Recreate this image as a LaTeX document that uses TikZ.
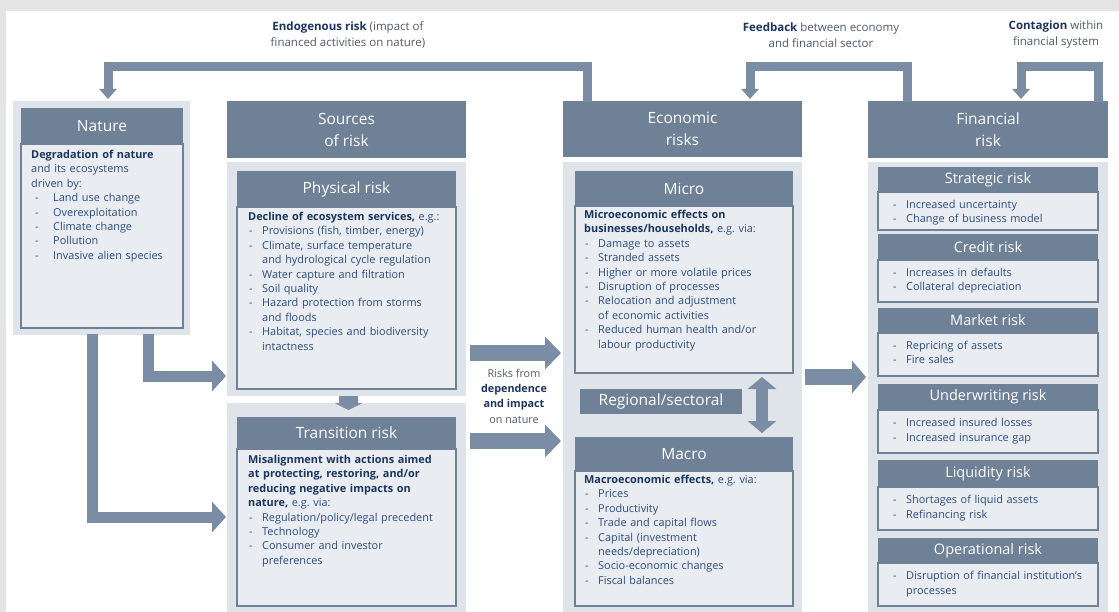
\documentclass[tikz,border=0pt]{standalone}
\usepackage{fontspec}
\setmainfont{Open Sans}
\frenchspacing
\usetikzlibrary{arrows.meta,calc}
\definecolor{hdr}{HTML}{6E8197}
\definecolor{arr}{HTML}{7A8DA5}
\definecolor{panel}{HTML}{DFE4EA}
\definecolor{bodyc}{HTML}{E9EDF2}
\definecolor{navy}{HTML}{1B355E}
\definecolor{itemc}{HTML}{2E4C7C}
\definecolor{lblc}{HTML}{4E5A6C}
\definecolor{framec}{HTML}{E4E4E4}
\newcommand\hl[1]{{\bfseries\color{navy}#1}}
\newcommand\itm[1]{\par\noindent\makebox[14pt][l]{\hspace{1pt}-}#1}
\newcommand\cnt[1]{\par\noindent\hspace*{14pt}#1}
\newcommand\itmn[1]{\par\noindent\makebox[22pt][l]{\hspace{4pt}-}#1}
\newcommand\bx[7]{\node[#2, minimum width={(#5-#3)*1pt}, minimum height={(#6-#4)*1pt}] (#1) at (#3,#4) {#7};}
\tikzset{
  boxbase/.style={anchor=north west, inner sep=0pt, outer sep=0pt},
  panelbox/.style={boxbase, fill=panel},
  hdrbox/.style={boxbase, fill=hdr, text=white, font=\fontsize{15.5}{22}\selectfont, align=center},
  subhdr/.style={hdrbox, font=\fontsize{14.5}{18}\selectfont},
  bodybox/.style={boxbase, fill=bodyc, draw=hdr, line width=1.2pt},
  txt/.style={anchor=north west, inner sep=0pt, align=left, text=itemc, font=\fontsize{10.9}{14.4}\selectfont},
  lbltxt/.style={align=center, inner sep=0pt, text=lblc, font=\fontsize{11.5}{16}\selectfont},
  fat/.style={draw=arr, line width=#1, line join=miter},
}
\begin{document}
\begin{tikzpicture}[x=1pt,y=-1pt]
\useasboundingbox (0,0) rectangle (1119,612);
\fill[framec] (0,0) rectangle (1119,612);
\fill[white] (6,11) rectangle (1119,612);

% ---------- Nature
\bx{natp}{panelbox}{13}{101}{190}{335}{}
\bx{nath}{hdrbox}{21}{108}{183}{144}{Nature}
\bx{natb}{bodybox}{21}{144}{183}{328}{}
\node[txt, text width=158pt] (natt) at ($(natb.north west)+(10,6)$) {%
\hl{Degradation of nature}\\and its ecosystems\\driven by:
\itmn{Land use change}
\itmn{Overexploitation}
\itmn{Climate change}
\itmn{Pollution}
\itmn{Invasive alien species}};

% ---------- Sources of risk
\bx{srch}{hdrbox}{227}{101}{466}{158}{Sources\\of risk}
\bx{physp}{panelbox}{227}{162}{466}{396}{}
\bx{physh}{hdrbox}{237}{171}{456}{207}{Physical risk}
\bx{physb}{bodybox}{237}{207}{456}{389}{}
\node[txt, text width=225pt] (physt) at ($(physb.north west)+(11,5)$) {%
\hl{Decline of ecosystem services,} e.g.:
\itm{Provisions (fish, timber, energy)}
\itm{Climate, surface temperature}
\cnt{and hydrological cycle regulation}
\itm{Water capture and filtration}
\itm{Soil quality}
\itm{Hazard protection from storms}
\cnt{and floods}
\itm{Habitat, species and biodiversity}
\cnt{intactness}};

\bx{transp}{panelbox}{227}{403}{466}{612}{}
\bx{transh}{hdrbox}{237}{417}{456}{449}{Transition risk}
\bx{transb}{bodybox}{237}{449}{456}{606}{}
\node[txt, text width=225pt] (transt) at ($(transb.north west)+(11,6)$) {%
\hl{Misalignment with actions aimed}\\\hl{at protecting, restoring, and/or}\\\hl{reducing negative impacts on}\\\hl{nature,} e.g. via:
\itm{Regulation/policy/legal precedent}
\itm{Technology}
\itm{Consumer and investor}
\cnt{preferences}};

% ---------- Economic risks
\bx{ecoh}{hdrbox}{563}{101}{802}{157}{Economic\\risks}
\bx{ecop}{panelbox}{563}{162}{802}{612}{}
\bx{microh}{hdrbox}{575}{171}{793}{206}{Micro}
\bx{microb}{bodybox}{575}{206}{793}{373}{}
\node[txt, text width=215pt] (microt) at ($(microb.north west)+(9,4)$) {%
\hl{Microeconomic effects on}\\\hl{businesses/households,} e.g. via:
\itm{Damage to assets}
\itm{Stranded assets}
\itm{Higher or more volatile prices}
\itm{Disruption of processes}
\itm{Relocation and adjustment}
\cnt{of economic activities}
\itm{Reduced human health and/or}
\cnt{labour productivity}};
\bx{reg}{hdrbox}{580}{389}{742}{414}{Regional/sectoral}
\bx{macroh}{hdrbox}{575}{437}{793}{471}{Macro}
\bx{macrob}{bodybox}{575}{471}{793}{606}{}
\node[txt, text width=215pt] (macrot) at ($(macrob.north west)+(9,4)$) {%
\hl{Macroeconomic effects,} e.g. via:
\itm{Prices}
\itm{Productivity}
\itm{Trade and capital flows}
\itm{Capital (investment}
\cnt{needs/depreciation)}
\itm{Socio-economic changes}
\itm{Fiscal balances}};

% ---------- Financial risk
\bx{finh}{hdrbox}{868}{101}{1108}{158}{Financial\\risk}
\bx{finp}{panelbox}{868}{162}{1108}{612}{}
\bx{strath}{subhdr}{878}{167}{1098}{192}{Strategic risk}
\bx{stratb}{bodybox}{878}{192}{1098}{230}{}
\node[txt, text width=210pt] (stratt) at ($(stratb.north west)+(14,2)$) {%
\itm{Increased uncertainty}\itm{Change of business model}};
\bx{credh}{subhdr}{878}{234}{1098}{260}{Credit risk}
\bx{credb}{bodybox}{878}{260}{1098}{302}{}
\node[txt, text width=210pt] (credt) at ($(credb.north west)+(14,2)$) {%
\itm{Increases in defaults}\itm{Collateral depreciation}};
\bx{markh}{subhdr}{878}{308}{1098}{333}{Market risk}
\bx{markb}{bodybox}{878}{333}{1098}{376}{}
\node[txt, text width=210pt] (markt) at ($(markb.north west)+(14,2)$) {%
\itm{Repricing of assets}\itm{Fire sales}};
\bx{undh}{subhdr}{878}{384}{1098}{410}{Underwriting risk}
\bx{undb}{bodybox}{878}{410}{1098}{453}{}
\node[txt, text width=210pt] (undt) at ($(undb.north west)+(14,2)$) {%
\itm{Increased insured losses}\itm{Increased insurance gap}};
\bx{liqh}{subhdr}{878}{460}{1098}{487}{Liquidity risk}
\bx{liqb}{bodybox}{878}{487}{1098}{530}{}
\node[txt, text width=210pt] (liqt) at ($(liqb.north west)+(14,2)$) {%
\itm{Shortages of liquid assets}\itm{Refinancing risk}};
\bx{oph}{subhdr}{878}{538}{1098}{563}{Operational risk}
\bx{opb}{bodybox}{878}{563}{1098}{606}{}
\node[txt, text width=210pt] (opt) at ($(opb.north west)+(14,2)$) {%
\itm{Disruption of financial institution's}\cnt{processes}};

% ---------- labels
\node[lbltxt] (endo) at (348,35) {\hl{Endogenous risk} (impact of\\financed activities on nature)};
\node[lbltxt] (feed) at (821,35) {\hl{Feedback} between economy\\and financial sector};
\node[lbltxt] (cont) at (1056,35) {\hl{Contagion} within\\financial system};
\node[lbltxt, font=\fontsize{10.8}{15.3}\selectfont] (rdep) at (514,396) {Risks from\\\hl{dependence}\\\hl{and impact}\\on nature};

% ---------- arrows
\draw[fat=9pt, -{Triangle[length=10pt,width=17pt]}]
  ($(ecoh.north west)+(24,1)$) -- ++(0,-35) -| ($(natp.north west)+(95,-2)$);
\draw[fat=9pt, -{Triangle[length=10pt,width=17pt]}]
  ($(finh.north west)+(39,1)$) -- ++(0,-35) -| ($(ecoh.north west)+(187,-2)$);
\draw[fat=9pt, -{Triangle[length=10pt,width=17pt]}]
  ($(finh.north east)+(-10,1)$) -- ++(0,-35) -| ($(finh.north west)+(153,-2)$);

\draw[fat=11pt, -{Triangle[length=14pt,width=30pt]}]
  ($(natp.south west)+(135,-1)$) |- ($(physp.north west)+(-1,214)$);
\draw[fat=11pt, -{Triangle[length=14pt,width=30pt]}]
  ($(natp.south west)+(79,-1)$) |- ($(transp.north west)+(-1,114)$);

\draw[fat=19pt, -{Triangle[length=7pt,width=28pt]}]
  ($(physp.south)+(2,0)$) -- ($(transp.north)+(2,7)$);

\draw[fat=16pt, -{Triangle[length=16pt,width=32pt]}]
  ($(physp.north east)+(4,191)$) -- ($(ecop.north west)+(-2,191)$);
\draw[fat=16pt, -{Triangle[length=16pt,width=32pt]}]
  ($(transp.north east)+(4,38)$) -- ($(ecop.north west)+(-2,279)$);

\draw[fat=12pt, {Triangle[length=12pt,width=28pt]}-{Triangle[length=12pt,width=28pt]}]
  ($(microb.south west)+(187,4)$) -- ($(macroh.north west)+(187,-4)$);

\draw[fat=16pt, -{Triangle[length=14pt,width=32pt]}]
  ($(ecop.north east)+(3,215)$) -- ($(finp.north west)+(-2,215)$);
\end{tikzpicture}
\end{document}
